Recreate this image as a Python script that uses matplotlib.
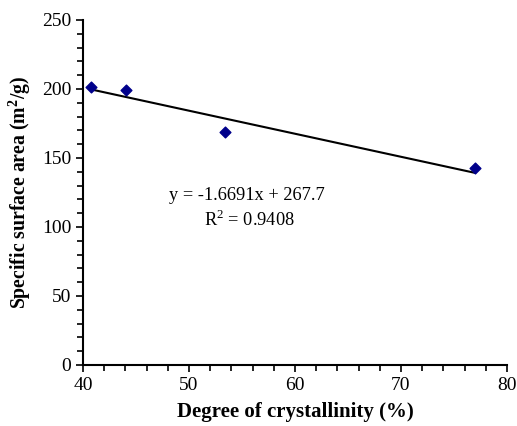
import numpy as np
import matplotlib
matplotlib.use("Agg")
from matplotlib import pyplot as plt
from matplotlib.ticker import MultipleLocator

crystallinity = [40.8, 44.1, 53.4, 77.0]
surface_area = [201.5, 199.0, 168.5, 142.5]
slope = -1.6691
intercept = 267.7
r_squared = 0.9408


def main():
    plt.rcParams["font.family"] = ["Liberation Serif", "DejaVu Serif"]
    plt.rcParams["mathtext.fontset"] = "custom"
    plt.rcParams["mathtext.rm"] = "Liberation Serif"
    plt.rcParams["mathtext.bf"] = "Liberation Serif:bold"
    fig = plt.figure(figsize=(5.17, 4.26), dpi=100)
    ax = fig.add_axes([0.1605, 0.1432, 0.82, 0.81])

    xs = np.array([min(crystallinity), max(crystallinity)])
    ax.plot(xs, slope * xs + intercept, color="black", lw=1.5, zorder=2)
    ax.scatter(crystallinity, surface_area, marker="D", s=30, color="#00008b", zorder=3)

    ax.set_xlim(40, 80)
    ax.set_ylim(0, 250)
    ax.xaxis.set_major_locator(MultipleLocator(10))
    ax.xaxis.set_minor_locator(MultipleLocator(2))
    ax.yaxis.set_major_locator(MultipleLocator(50))
    ax.yaxis.set_minor_locator(MultipleLocator(10))
    ax.tick_params(which="both", direction="out", width=1.2, labelsize=14)
    ax.tick_params(which="major", length=5)
    ax.tick_params(which="minor", length=4)
    for s in ("top", "right"):
        ax.spines[s].set_visible(False)
    for s in ("left", "bottom"):
        ax.spines[s].set_linewidth(1.5)

    ax.set_xlabel("Degree of crystallinity (%)", fontsize=15, fontweight="bold", labelpad=6)
    ax.set_ylabel(r"Specific surface area (m$^\mathbf{2}$/g)", fontsize=14.2, fontweight="bold", labelpad=6)

    ax.text(55.5, 123, f"y = {slope}x + {intercept}", fontsize=13.2, ha="center", va="center")
    ax.text(55.7, 105, f"R$^2$ = {r_squared}", fontsize=13.2, ha="center", va="center")

    fig.savefig("out.png", dpi=100)


if __name__ == '__main__':
    main()
